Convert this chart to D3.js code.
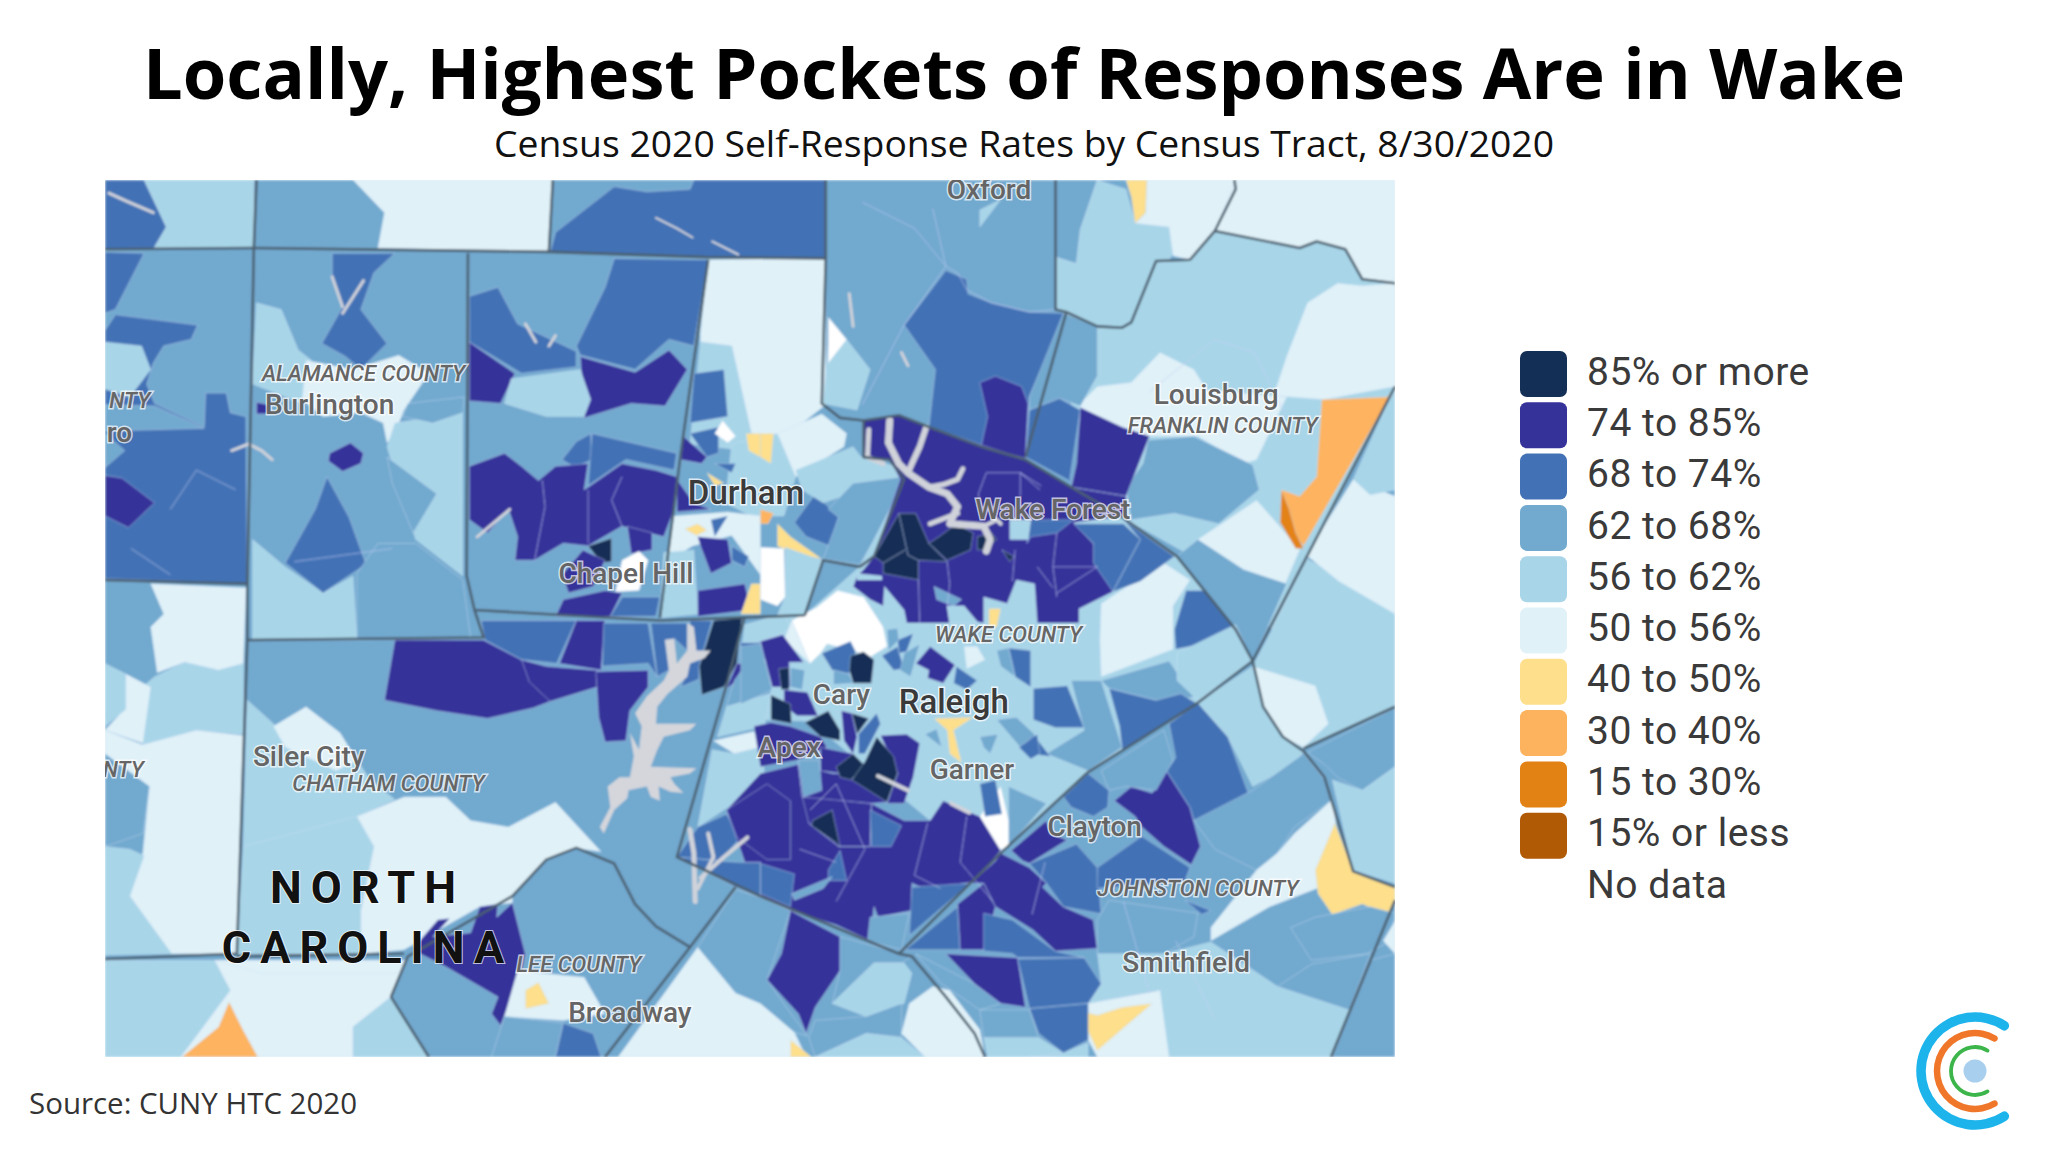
<!DOCTYPE html>
<html>
<head>
<meta charset="utf-8">
<script src="https://cdn.jsdelivr.net/npm/d3@7"></script>
<style>
  html, body { margin: 0; padding: 0; background: #fff; }
  svg { display: block; }
</style>
</head>
<body>
<div id="chart"></div>
<script>
// Legend classes
const legendLabels = ['85% or more', '74 to 85%', '68 to 74%', '62 to 68%', '56 to 62%', '50 to 56%', '40 to 50%', '30 to 40%', '15 to 30%', '15% or less', 'No data'];
const legendColors = ['#132f55', '#35329a', '#4272b5', '#72a9cf', '#a8d5e8', '#e0f1f8', '#fddf8c', '#fdb35e', '#e38214', '#b05a06', '#ffffff'];
const rateBreaks = [15, 30, 40, 50, 56, 62, 68, 74, 85];

// Tracts, painted in order: [estimated self-response rate, outline in map units]
const baseTracts = [
  [65, '80,138 1068,138 1068,809 80,809'],
];
const guilfordTracts = [
  [71, '80,138 110,138 127,174 117,191 80,191'],
  [59, '110,138 194,138 194,190 117,191 127,174'],
  [71, '80,193 110,194 88,237 80,240'],
  [71, '80,253 88,241 151,249 146,260 125,265 117,278 112,294 118,309 156,327 157,301 173,301 176,316 188,319 189,447 80,443'],
  [59, '80,262 108,265 115,283 99,304 80,298'],
  [65, '80,310 118,311 156,328 80,330'],
  [65, '80,332 95,345 80,358'],
  [78, '80,364 93,366 118,385 98,404 80,395'],
  [53, '115,447 188,450 186,508 167,513 141,507 120,515 115,480 125,470'],
  [59, '118,518 141,507 167,513 186,508 186,562 150,559 109,570 110,525'],
  [53, '96,516 115,526 109,569 80,559 92,546'],
  [59, '80,508 96,516 96,543 80,556'],
  [53, '80,559 109,570 150,559 186,563 181,730 131,730 99,686 109,653 114,602 80,577'],
  [65, '80,577 114,602 109,638 80,648'],
  [59, '80,648 99,650 110,655 99,686 131,730 80,731'],
  [59, '80,735 164,735 176,758 138,809 80,809'],
  [53, '164,735 311,735 299,763 270,786 270,809 138,809 176,758'],
  [35, '175,767 186,789 197,809 139,809 167,786'],
  [59, '270,786 299,763 328,809 270,809'],
];
const alamanceTracts = [
  [53, '270,138 423,138 420,193 289,190 294,163'],
  [71, '421,193 425,178 470,143 495,147 528,145 531,138 632,138 632,198 540,197'],
  [71, '254,194 302,194 286,209 276,237 296,263 276,283 264,273 246,263 262,235 254,212'],
  [59, '196,232 215,237 228,268 238,276 231,309 193,294'],
  [53, '234,276 270,283 305,272 328,286 309,314 302,332 296,339 293,324 276,316 247,319 231,306'],
  [59, '302,324 354,316 354,441 318,413 296,342'],
  [65, '312,309 355,304 354,316 331,324 308,319'],
  [59, '193,413 218,434 247,454 270,441 273,490 193,490'],
  [71, '250,365 267,396 280,432 247,454 218,431 241,390'],
  [78, '252,347 268,339 278,347 276,355 262,361 251,353'],
  [65, '296,350 334,378 316,408 300,370'],
  [65, '273,439 289,416 318,416 354,444 360,488 273,490'],
  [78, '196,308 206,310 205,317 196,317'],
];
const orangeTracts = [
  [71, '470,198 542,199 531,265 512,260 486,283 444,272 441,265 463,220'],
  [71, '359,227 381,220 396,248 441,269 441,281 399,286 359,262'],
  [78, '359,262 394,286 383,309 359,307'],
  [78, '444,273 486,285 512,268 526,283 509,311 483,309 447,320'],
  [59, '391,290 444,283 452,306 447,319 418,319 386,309'],
  [71, '430,352 441,338 452,332 453,352 440,358'],
  [71, '453,332 518,347 516,360 479,352 450,372'],
  [78, '359,357 386,347 399,357 412,368 425,357 450,355 447,375 476,355 502,360 518,365 516,390 508,411 476,403 450,418 431,416 409,429 394,429 396,411 389,390 373,408 359,398'],
  [88, '450,418 468,412 468,430 460,431'],
  [78, '480,403 499,408 499,421 483,424'],
  [null, '476,429 489,422 496,429 489,452 471,453'],
  [78, '431,459 463,452 476,454 467,472 425,472'],
  [78, '446,421 463,429 454,449 435,454 430,440'],
  [71, '476,457 505,457 502,472 467,472'],
];
const durhamTracts = [
  [53, '542,199 632,198 632,310 600,335 575,332 560,265 536,262 536,255'],
  [59, '536,262 560,265 575,332 570,345 528,340'],
  [71, '531,286 554,283 557,319 528,324'],
  [59, '560,340 595,332 609,365 600,395 575,395 555,385'],
  [71, '528,332 550,327 550,347 541,350'],
  [78, '523,334 541,350 537,355 521,352'],
  [null, '553,322 563,334 557,339 547,332'],
  [45, '571,332 582,332 582,350 573,345'],
  [45, '541,362 554,370 547,372'],
  [71, '547,355 563,355 560,362'],
  [78, '518,367 531,385 544,390 518,392'],
  [53, '516,395 557,392 582,395 582,440 560,410 530,418 510,430'],
  [78, '534,411 557,413 560,431 544,439 536,418'],
  [45, '524,405 534,401 541,406 533,410'],
  [71, '544,398 557,395 547,411'],
  [59, '508,423 531,421 534,470 505,473'],
  [78, '534,452 570,447 575,467 534,472'],
  [45, '575,447 582,447 582,470 567,470'],
  [71, '560,418 573,426 570,434 560,429'],
  [71, '608,400 624,378 642,396 635,418 617,411'],
  [45, '595,401 605,411 629,428 609,424 595,418'],
  [35, '582,390 592,393 588,401 582,401'],
  [null, '582,419 600,420 601,457 595,464 582,459'],
  [59, '601,419 629,429 616,471 595,471 601,457'],
  [53, '595,332 629,317 648,332 646,342 609,365'],
  [59, '609,360 653,342 659,350 685,357 688,365 630,385 614,375'],
  [65, '634,390 653,370 692,365 679,398 658,432 630,428 642,396'],
  [45, '582,332 592,332 590,355 582,350'],
];
const granvilleTracts = [
  [71, '692,249 724,207 740,214 741,225 759,232 788,239 816,240 788,304 785,350 751,342 711,327 716,283'],
  [78, '750,293 762,288 782,296 787,309 785,351 751,342 756,319'],
  [59, '750,174 750,161 766,153'],
  [59, '634,265 648,260 666,283 656,314 630,309'],
  [null, '634,243 648,260 634,278'],
  [65, '808,138 840,138 827,176 824,202 808,197'],
  [59, '840,138 862,145 869,171 895,174 898,194 866,247 859,251 840,250 816,239 808,237 808,197 824,202 827,176'],
  [53, '878,138 945,138 946,145 930,177 911,199 898,196 895,174 869,171 877,163'],
  [45, '862,138 878,138 877,163 869,171 866,151'],
  [53, '946,138 1068,138 1068,217 1043,214 1030,191 1008,185 995,190 930,177'],
];
const franklinTracts = [
  [59, '816,240 840,250 859,251 866,247 885,200 911,199 930,177 995,190 1008,185 1030,191 1043,214 1068,217 1068,296 974,482 920,430 859,396 816,300'],
  [53, '1001,232 1024,217 1043,219 1068,217 1068,296 1014,306 975,303 985,273'],
  [53, '827,309 840,296 866,293 888,270 914,283 924,299 985,304 962,352 952,355 917,334 879,334 859,332 827,312'],
  [65, '879,337 914,334 959,356 964,375 933,401 899,393 866,398 862,373 875,355'],
  [53, '903,427 917,413 962,383 978,401 995,421 974,470 950,440'],
  [35, '1012,306 1062,304 1068,297 998,418 981,396 981,375 995,380 1008,365'],
  [22, '981,375 987,390 992,408 998,420 992,420 980,400'],
  [59, '974,482 1000,428 1025,440 1068,470 1068,541 998,573 982,564 967,541 959,510'],
  [53, '1000,425 1036,367 1068,380 1068,470 1025,445'],
  [59, '1068,296 1036,367 1049,379 1068,375'],
  [53, '959,510 1007,525 1017,554 998,572 982,564 967,541'],
  [65, '788,304 814,240 840,250 840,288 827,311 811,305 788,314'],
  [71, '788,314 811,305 827,314 819,367 822,370 785,350'],
  [78, '827,312 859,327 880,334 862,380 820,373 824,355'],
];
const chathamTracts = [
  [59, '189,536 209,554 215,564 273,582 283,597 302,612 273,625 186,648'],
  [53, '209,556 234,541 260,561 273,582 257,590 218,572'],
  [59, '186,648 273,625 286,648 276,697 283,730 181,730'],
  [53, '273,625 309,610 341,610 360,628 389,633 425,614 460,652 441,649 418,658 392,686 392,691 367,694 309,727 276,730 276,697 286,648'],
  [53, '164,735 311,735 305,745 200,745'],
  [78, '302,490 370,490 399,505 421,537 408,542 373,550 334,544 294,536'],
  [71, '368,475 441,475 426,508 399,505 371,490'],
  [78, '399,505 418,510 457,513 457,526 421,537 405,522'],
  [78, '428,508 441,475 463,475 460,513'],
  [71, '462,477 496,477 503,518 496,508 461,510'],
  [71, '498,477 526,477 526,498 516,489 509,490 512,513 503,518'],
  [71, '528,475 545,475 535,510 535,520 521,526 528,508'],
  [78, '456,514 496,513 496,526 482,544 479,567 463,568 458,549'],
  [88, '546,475 568,473 564,508 554,526 537,532 535,510'],
  [78, '564,508 572,508 569,518 556,527'],
  [78, '367,694 381,692 380,702 392,691 402,730 399,745 383,785 376,776 381,763 341,740 315,727 335,704 344,703 331,717 360,714'],
];
const leeTracts = [
  [53, '396,743 447,748 463,776 431,781 386,778'],
  [45, '402,758 412,752 420,768 402,772'],
  [65, '386,778 431,783 425,809 376,809'],
  [71, '431,783 454,791 460,809 425,809'],
  [53, '473,809 534,725 563,760 582,768 608,790 617,809'],
  [65, '534,725 563,681 582,687 605,697 587,750 601,770 618,793 608,790 582,768 563,760'],
  [45, '605,796 621,809 605,809'],
];
const wakeTracts = [
  [59, '582,475 616,471 658,434 693,367 785,352 859,396 901,426 946,482 959,506 917,538 833,591 766,653 712,628 620,552 582,551'],
  // western edge along the county line
  [59, '570,478 600,470 606,482 582,491 568,495'],
  [71, '567,492 582,492 587,505 567,505'],
  [65, '572,507 588,507 590,531 556,541 562,521'],
  [59, '556,541 590,531 585,556 549,564'],
  [53, '546,567 577,560 582,572 562,577'],
  [59, '545,574 562,577 582,572 585,590 577,605 534,633'],
  [71, '534,633 556,623 567,641 551,659 518,656'],
  [71, '518,656 551,659 565,660 582,660 582,687 563,679'],
  // east side
  [53, '843,462 866,447 891,431 911,444 898,464 898,497 843,518 842,490'],
  [71, '899,482 908,452 923,452 946,482 937,490 900,497'],
  [65, '901,426 917,413 952,436 985,447 959,506 946,482'],
  [65, '843,521 895,506 914,534 885,536 849,527'],
  [71, '849,527 885,536 904,531 917,539 859,574 857,556'],
  [59, '901,500 946,478 959,506 917,536 901,521'],
  [71, '791,527 817,525 830,557 808,557 791,551'],
  [71, '772,496 789,498 789,526 777,518'],
  [65, '763,498 772,496 777,518 766,510'],
  [53, '738,495 748,495 754,505 740,512'],
  [71, '732,510 748,521 740,528 730,523'],
  [65, '820,521 843,521 859,572 833,590 801,577 830,559'],
  [71, '782,569 791,562 804,579 788,577'],
  [65, '763,551 778,549 792,562 781,572'],
  [71, '780,572 794,562 796,577 789,581'],
  [65, '708,562 717,558 721,572'],
  [65, '750,564 764,562 758,577 753,572'],
  [65, '772,602 801,615 772,648'],
  [null, '766,602 772,628 772,648 764,651 748,628'],
  [71, '750,600 762,597 767,623 754,625'],
  [45, '715,550 745,549 730,559 736,584 727,577 725,559'],
  [78, '701,508 712,495 731,509 722,523 710,519 711,513'],
  [71, '675,502 687,495 692,512 684,513'],
  [71, '687,490 699,485 694,499 688,500'],
  [65, '679,482 687,481 688,490 680,498'],
  [65, '692,500 704,493 697,518 689,513'],
  // north of Raleigh
  [78, '661,322 688,318 711,327 785,352 820,373 862,380 862,395 822,400 837,416 852,453 826,466 826,477 794,477 792,447 778,444 771,462 753,457 753,477 741,475 738,464 725,464 727,477 694,477 692,467 677,449 676,464 666,459 653,449 656,441 661,436 669,426 689,367 681,352 661,350'],
  [71, '789,398 822,398 809,408 789,411 786,416'],
  [71, '822,401 860,401 873,413 852,453 837,431 837,416'],
  [71, '860,398 899,426 873,445 852,453 873,413'],
  [59, '773,398 789,398 787,413 773,413'],
  [65, '715,449 736,459 730,464 717,459'],
  [59, '656,439 675,441 675,444 656,444'],
  [59, '725,464 738,464 749,477 727,477'],
  [45, '757,466 766,466 763,480 757,480'],
  [88, '669,426 688,393 701,393 711,416 725,430 703,429 703,444 676,439 676,431'],
  [88, '711,416 720,410 732,401 745,408 743,421 725,429'],
  [88, '748,411 759,408 763,413 753,421 748,421'],
  [88, '767,421 776,426 773,430'],
  // Umstead park and west Raleigh
  [53, '606,475 620,508 600,490'],
  [null, '606,475 625,465 641,452 661,457 676,480 679,495 666,503 653,498 633,493 628,500 620,508'],
  [71, '629,500 651,491 655,499 650,516 637,513'],
  [65, '638,513 650,516 653,523 638,524'],
  [88, '651,502 661,499 669,505 667,523 653,523 650,513'],
  [65, '567,495 582,493 591,528 567,539'],
  [78, '582,491 599,486 615,507 604,507 605,526 591,526'],
  [65, '605,511 616,513 614,528 605,526'],
  [88, '596,512 604,511 604,528 598,528'],
  // south Wake
  [78, '556,620 582,592 611,585 614,610 624,610 619,630 642,648 666,648 667,615 692,628 712,628 722,613 750,625 766,651 746,675 709,681 698,676 698,697 672,702 669,694 666,720 640,708 605,697 582,685 582,660 570,660'],
  [78, '614,610 624,610 667,615 666,648 642,648 619,630'],
  [78, '611,585 637,592 659,592 679,614 667,615 614,610'],
  [78, '556,620 587,600 605,613 605,658 587,658 564,641'],
  [71, '582,661 608,669 605,694 582,684'],
  [71, '634,666 643,651 648,674 634,674'],
  [71, '698,679 743,676 696,716'],
  [65, '666,702 696,699 690,727 664,720'],
  [65, '606,684 637,671 630,680 608,689'],
  [71, '666,620 690,632 682,648 667,648'],
  [88, '622,628 637,620 643,648 640,645 621,632'],
  [78, '605,697 643,717 643,743 624,771 617,791 611,776 587,750 598,730'],
  // Cary and Apex cluster
  [78, '577,556 590,553 605,556 628,564 633,572 610,582 582,587'],
  [78, '600,528 618,530 626,548 610,548 600,540'],
  [88, '590,532 605,539 606,554 590,551'],
  [88, '616,553 634,544 643,559 643,567 628,564'],
  [78, '644,544 652,546 656,564 653,577 646,567'],
  [88, '652,546 665,550 656,562'],
  [71, '657,562 671,546 674,554 662,577 657,577'],
  [78, '628,572 653,577 643,592 628,590'],
  [65, '611,582 627,582 629,605 615,610'],
  [88, '640,587 653,577 663,587 651,597 643,595'],
  [78, '674,563 694,562 704,569 699,595 692,615 679,615 687,592'],
  [88, '662,583 671,564 684,579 687,592 679,614 652,597'],
];
const johnstonTracts = [
  [65, '643,717 690,730 698,732 690,737 669,737 637,768 643,743'],
  [59, '637,768 669,737 692,737 698,745 692,768 663,778'],
  [65, '619,794 624,781 663,778 690,768 690,794 663,791 624,809'],
  [53, '696,768 714,755 727,758 750,788 754,809 708,809 690,791'],
  [59, '624,809 663,791 690,794 708,809'],
  [59, '753,794 795,794 814,806 788,809 756,809'],
  [59, '788,809 814,806 833,798 833,809'],
  [59, '840,728 891,730 927,721 978,755 1040,763 1020,809 895,809 885,758 833,768 843,753'],
  [53, '833,768 888,758 895,809 840,809 833,796'],
  [45, '824,773 840,777 859,771 882,768 840,804 830,783'],
  [65, '701,730 746,753 766,768 750,773 721,753'],
  [71, '693,727 733,694 735,727'],
  [78, '733,692 753,676 762,694 753,727 735,727'],
  [78, '766,653 788,664 801,676 798,679 814,694 837,704 840,726 808,728 791,712 762,694 753,676 743,676 762,659'],
  [78, '774,651 801,628 804,638 817,643 788,661 783,659'],
  [71, '753,699 775,704 808,728 830,733 779,733 775,730 753,728'],
  [78, '724,730 779,733 785,771 766,768 746,753'],
  [71, '779,734 830,733 843,753 833,768 788,772'],
  [71, '788,772 833,768 833,796 814,806 795,791'],
  [65, '750,773 788,773 795,794 753,794'],
  [71, '788,661 824,646 840,664 843,699 840,699 814,694 801,676'],
  [71, '840,664 874,640 911,664 907,675 840,680'],
  [71, '907,689 927,697 920,700'],
  [65, '849,689 917,699 914,717 891,730 840,730 840,704'],
  [78, '853,613 866,602 882,607 893,590 911,618 919,648 912,662 891,648 874,633 869,625'],
  [71, '814,610 833,592 849,605 848,618 837,625 820,618'],
  [71, '895,554 917,538 940,564 956,608 953,620 914,628 911,618 893,590 900,580'],
  [65, '843,590 891,559 898,582 885,605 862,602 849,605'],
  [59, '917,538 959,510 967,541 982,564 998,575 991,585 959,602 940,564'],
  [65, '914,628 959,605 998,577 1014,597 1020,612 991,633 978,653 962,666 930,650'],
  [53, '991,638 1020,612 1023,633 1011,679 972,694 927,720 927,710 962,666 978,653'],
  [65, '1001,576 1068,542 1068,587 1043,605 1024,595 1014,585'],
  [59, '1020,597 1043,605 1068,587 1068,676 1036,666'],
  [45, '1022,630 1036,667 1068,679 1068,689 1062,700 1043,692 1020,700 1009,684 1007,666'],
  [65, '988,710 1007,702 1049,694 1068,699 1065,720 1046,730 1004,735'],
  [65, '978,755 1004,738 1049,730 1033,773'],
  [53, '1059,720 1068,705 1068,730'],
  [65, '1020,809 1049,735 1068,730 1068,809'],
];

// County boundaries, map units
const countyLines = [
  '80,191 194,190 420,193 540,197 632,198',
  '196,138 194,190 189,447 189,490 181,730 80,734',
  '181,732 309,730',
  '80,444 189,447',
  '423,138 420,193',
  '358,194 357,441 363,467 505,475 616,471',
  '189,490 370,488 363,467',
  '542,199 521,347 505,473',
  '632,138 632,198 629,309 643,320 661,322 688,318 711,327 751,342 785,352 820,373 859,396 901,426 946,482 959,506',
  '616,471 630,429 658,434',
  '658,434 669,426 692,367 681,352 661,350 661,322',
  '808,138 808,237 816,239 840,250 859,251 866,247 885,200 911,199 930,177 946,145 945,138',
  '930,177 995,190 1008,185 1030,191 1043,214 1068,217',
  '816,240 785,350',
  '1068,296 959,506 917,538 833,591 766,653 688,730',
  '570,472 555,528 518,656 582,686 688,730 698,732 724,763 746,791 754,809',
  '959,506 967,541 982,564 998,575 1014,595 1036,667 1068,679',
  '998,573 1068,541',
  '1068,689 1019,809',
  '299,763 312,732 392,686 418,658 441,649 470,661 486,692 502,709 528,725',
  '299,763 328,809',
  '563,679 528,725 463,809',
];
// Thin tract boundaries that are not the edge of a coloured shape
const tractLines = [
  '415,368 417,388 409,429',
  '450,375 450,416',
  '476,365 468,383 476,403',
  '724,204 733,209 740,222 759,232 788,239 808,237',
  '714,160 724,204 692,249 660,310',
  '660,155 700,175 724,204',
  '880,300 930,260 960,270 985,320',
  '620,620 640,600 662,650 640,690',
  '710,630 700,670 720,680',
  '740,625 735,660 760,690',
  '612,650 640,660',
  '790,700 800,660',
  '860,690 880,760',
  '900,720 930,780',
  '225,430 300,420',
  '100,420 130,440',
  '130,390 150,360 180,375',
  '703,444 704,477',
  '725,430 727,447 725,464',
  '809,408 806,434 809,457',
  '806,434 840,434',
  '840,434 809,454',
  '755,362 781,362 781,380',
  '755,362 749,378 750,388',
  '781,362 796,375',
  '781,362 797,372',
  '777,421 775,445',
  '794,434 806,450',
  '688,393 695,425 703,429',
  '676,431 693,421',
];
// Lake outlines, map units
const lakeShapes = [
  '526,477 531,480 533,498 544,498 539,504 528,508 526,518 511,531 503,541 502,554 533,554 528,559 508,564 503,574 498,587 533,588 528,592 513,595 516,600 523,607 513,606 504,602 505,613 498,610 495,602 481,605 480,611 470,620 462,638 459,633 467,618 465,602 474,595 482,595 485,579 482,561 489,574 491,556 486,546 495,533 508,521 512,513 509,490 516,489 518,508 526,498',
];
// Rivers and narrow lake arms: [stroke width in px, path in map units]
const lakes = [
  [7, '681,322 680,339 688,355 695,362 711,373 725,378 733,388 727,401 753,403 758,413 755,422'],
  [6, '709,327 704,342 698,355 695,362'],
  [5, '737,359 733,367 722,371 711,373'],
  [5, '733,393 712,401'],
  [5, '665,329 664,350 676,355'],
  [4, '753,403 763,398 766,401'],
  [5, '528,635 531,653 532,690'],
  [4, '542,638 546,656 534,680'],
  [4, '572,641 554,656 536,672'],
  [3, '83,148 96,154 117,163'],
  [3, '254,212 262,235'],
  [3, '278,215 262,240'],
  [2, '502,167 518,175 530,182'],
  [2, '545,185 565,195'],
  [3, '402,248 410,262'],
  [3, '425,257 420,265'],
  [3, '177,345 190,340 200,345 208,352'],
  [3, '365,411 390,390'],
  [3, '650,225 653,250'],
  [3, '690,270 695,280'],
  [4, '672,594 695,605'],
  [4, '728,615 742,622'],
];
// Place names on the map
const cityNames = ['Oxford', 'Louisburg', 'Wake Forest', 'Chapel Hill', 'Cary', 'Apex', 'Garner', 'Clayton', 'Smithfield', 'Siler City', 'Broadway', 'Burlington', 'ro'];
const cityPositions = ['757,145', '931,302', '806,390', '479,439', '644,532', '604,572', '744,589', '838,633', '908,737', '236,579', '482,775', '252,310', '91,331'];
const bigCityNames = ['Durham', 'Raleigh'];
const bigCityPositions = ['571,377', '730,537'];
const countyNames = ['FRANKLIN COUNTY', 'WAKE COUNTY', 'JOHNSTON COUNTY', 'CHATHAM COUNTY', 'LEE COUNTY', 'ALAMANCE COUNTY', 'NTY', 'NTY'];
const countyPositions = ['936,326', '772,486', '917,680', '297,600', '443,738', '278,286', '99,307', '94,589'];
const stateNames = ['NORTH', 'CAROLINA'];
const statePositions = ['281,679', '281,725'];

const width = 2048;
const height = 1152;

const svg = d3.select('#chart').append('svg')
  .attr('width', width)
  .attr('height', height);

const titleFont = '"Open Sans", sans-serif';
const mapFont = 'Roboto, sans-serif';

// Map units to page pixels
const x = d3.scaleLinear().domain([80, 1068]).range([105, 1395]);
const y = d3.scaleLinear().domain([138, 809]).range([180, 1057]);

const color = d3.scaleThreshold()
  .domain(rateBreaks)
  .range(legendColors.slice(0, 10).reverse());

const parsePoints = s => s.split(' ').map(p => p.split(',').map(Number));
const line = d3.line().x(d => x(d[0])).y(d => y(d[1]));

const defs = svg.append('defs');
defs.append('clipPath').attr('id', 'map-clip')
  .append('rect')
  .attr('x', x(80)).attr('y', y(138))
  .attr('width', x(1068) - x(80)).attr('height', y(809) - y(138));
// The reference is a soft screenshot of a web map
defs.append('filter').attr('id', 'soft')
  .append('feGaussianBlur').attr('stdDeviation', 0.8);

const map = svg.append('g').attr('clip-path', 'url(#map-clip)');
const shapes = map.append('g').attr('filter', 'url(#soft)');

// Tracts
const allTracts = [].concat(baseTracts, guilfordTracts, alamanceTracts, orangeTracts, chathamTracts, leeTracts,
  durhamTracts, granvilleTracts, franklinTracts, wakeTracts, johnstonTracts);

shapes.selectAll('path.tract')
  .data(allTracts)
  .join('path')
  .attr('class', 'tract')
  .attr('d', d => line(parsePoints(d[1])) + 'Z')
  .attr('fill', d => d[0] === null ? '#ffffff' : color(d[0]))
  .attr('stroke', 'rgba(205,225,245,0.55)')
  .attr('stroke-width', 0.8);

shapes.selectAll('path.tract-line')
  .data(tractLines)
  .join('path')
  .attr('class', 'tract-line')
  .attr('d', d => line(parsePoints(d)))
  .attr('fill', 'none')
  .attr('stroke', 'rgba(195,205,245,0.6)')
  .attr('stroke-width', 1);

// Water
shapes.selectAll('path.lake-shape')
  .data(lakeShapes)
  .join('path')
  .attr('class', 'lake-shape')
  .attr('d', d => line(parsePoints(d)) + 'Z')
  .attr('fill', '#d4d6dc');

shapes.selectAll('path.lake')
  .data(lakes)
  .join('path')
  .attr('class', 'lake')
  .attr('d', d => line(parsePoints(d[1])))
  .attr('fill', 'none')
  .attr('stroke', '#d0d3da')
  .attr('stroke-width', d => d[0])
  .attr('stroke-linejoin', 'round')
  .attr('stroke-linecap', 'round');

// County lines
shapes.selectAll('path.county')
  .data(countyLines)
  .join('path')
  .attr('class', 'county')
  .attr('d', d => line(parsePoints(d)))
  .attr('fill', 'none')
  .attr('stroke', '#4c5e6e')
  .attr('stroke-width', 2.6)
  .attr('stroke-linejoin', 'round');

// Place labels with a pale halo
function placeLabels(names, positions, opts) {
  map.append('g').selectAll('text')
    .data(names)
    .join('text')
    .attr('x', (d, i) => x(+positions[i].split(',')[0]))
    .attr('y', (d, i) => y(+positions[i].split(',')[1]))
    .attr('text-anchor', 'middle')
    .attr('dominant-baseline', 'central')
    .attr('font-family', mapFont)
    .attr('font-size', opts.size)
    .attr('font-weight', opts.weight || 400)
    .attr('font-style', opts.italic ? 'italic' : 'normal')
    .attr('letter-spacing', opts.spacing || 0)
    .attr('fill', opts.fill)
    .attr('stroke', opts.halo)
    .attr('stroke-width', opts.haloWidth || 3)
    .attr('paint-order', 'stroke')
    .text(d => d);
}

placeLabels(cityNames, cityPositions, { size: 28, weight: 500, fill: '#656565', halo: 'rgba(255,255,255,0.7)' });
placeLabels(bigCityNames, bigCityPositions, { size: 33, weight: 500, fill: '#3a3a3a', halo: 'rgba(255,255,255,0.75)' });
placeLabels(countyNames, countyPositions, { size: 22, weight: 500, italic: true, fill: '#666666', halo: 'rgba(255,255,255,0.7)' });
placeLabels(stateNames, statePositions, { size: 45, weight: 700, spacing: 9, fill: '#111111', halo: 'rgba(255,255,255,0.7)', haloWidth: 2 });

// Title block
svg.append('text')
  .attr('x', 1024).attr('y', 99)
  .attr('text-anchor', 'middle')
  .attr('font-family', titleFont)
  .attr('font-size', 70)
  .attr('font-weight', 700)
  .attr('textLength', 1762)
  .attr('lengthAdjust', 'spacingAndGlyphs')
  .attr('fill', '#000')
  .text('Locally, Highest Pockets of Responses Are in Wake');

svg.append('text')
  .attr('x', 1024).attr('y', 157)
  .attr('text-anchor', 'middle')
  .attr('font-family', titleFont)
  .attr('font-size', 36)
  .attr('textLength', 1060)
  .attr('lengthAdjust', 'spacingAndGlyphs')
  .attr('fill', '#111')
  .text('Census 2020 Self-Response Rates by Census Tract, 8/30/2020');

svg.append('text')
  .attr('x', 29).attr('y', 1114)
  .attr('font-family', titleFont)
  .attr('font-size', 30)
  .attr('textLength', 328)
  .attr('lengthAdjust', 'spacingAndGlyphs')
  .attr('fill', '#333')
  .text('Source: CUNY HTC 2020');

// Legend
const legendRow = d3.scaleBand()
  .domain(legendLabels)
  .range([349, 349 + 51.3 * legendLabels.length]);

const legend = svg.append('g');
legend.selectAll('rect')
  .data(legendLabels.slice(0, 10))
  .join('rect')
  .attr('x', 1520)
  .attr('y', d => legendRow(d) + 2)
  .attr('width', 47)
  .attr('height', 46)
  .attr('rx', 7)
  .attr('fill', (d, i) => legendColors[i]);

legend.selectAll('text')
  .data(legendLabels)
  .join('text')
  .attr('x', 1587)
  .attr('y', d => legendRow(d) + legendRow.bandwidth() / 2 - 3)
  .attr('dominant-baseline', 'central')
  .attr('font-family', mapFont)
  .attr('font-size', 39)
  .attr('letter-spacing', 0.5)
  .attr('fill', '#3a3a3a')
  .text(d => d);

// Logo, opening faces right
const logoRings = [
  { r: 54, w: 9.5, gap: 38, color: '#1db4ec' },
  { r: 38, w: 6.5, gap: 36, color: '#f0762a' },
  { r: 24, w: 3.8, gap: 36, color: '#3cb54a' },
];
const logo = svg.append('g').attr('transform', 'translate(1975,1071)');
const logoArc = d3.arc().cornerRadius(6);
logo.selectAll('path')
  .data(logoRings)
  .join('path')
  .attr('d', d => logoArc({
    innerRadius: d.r - d.w / 2,
    outerRadius: d.r + d.w / 2,
    startAngle: (180 - d.gap) * Math.PI / 180,
    endAngle: (360 + d.gap) * Math.PI / 180,
  }))
  .attr('fill', d => d.color);
logo.append('circle').attr('r', 11.5).attr('fill', '#a9cfee');
</script>
</body>
</html>
